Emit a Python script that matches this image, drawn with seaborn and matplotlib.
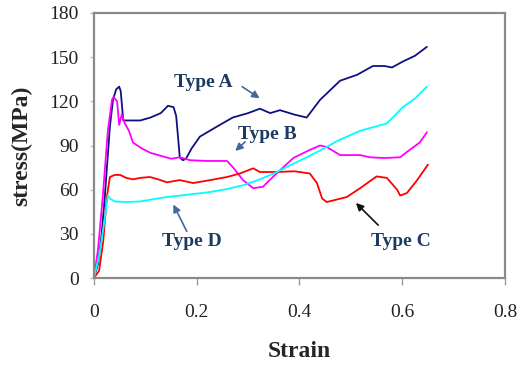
import matplotlib
matplotlib.use("Agg")
import matplotlib.pyplot as plt
import seaborn as sns

# Type A (navy)
A_X = [0, 0.008, 0.015, 0.021, 0.031, 0.037, 0.043, 0.049, 0.052, 0.054, 0.057, 0.07, 0.09, 0.11,
       0.13, 0.144, 0.155, 0.16, 0.167, 0.173, 0.179, 0.19, 0.206, 0.24, 0.27, 0.3, 0.323,
       0.343, 0.362, 0.39, 0.414, 0.44, 0.479, 0.512, 0.543, 0.565, 0.58, 0.601, 0.625, 0.648]
A_Y = [0, 10, 30, 55, 103, 121, 128, 130, 127, 119, 107, 107, 107, 109,
       112, 117, 116, 110, 82, 80, 81, 88, 96, 103, 109, 112, 115,
       112, 114, 111, 109, 121, 134, 138, 144, 144, 143, 147, 151, 157]

# Type B (magenta)
B_X = [0, 0.008, 0.017, 0.027, 0.035, 0.038, 0.045, 0.049, 0.054, 0.06, 0.068, 0.076, 0.093,
       0.11, 0.125, 0.15, 0.167, 0.187, 0.22, 0.259, 0.271, 0.29, 0.31, 0.329, 0.348, 0.388,
       0.42, 0.44, 0.453, 0.479, 0.518, 0.537, 0.565, 0.596, 0.609, 0.634, 0.648]
B_Y = [0, 20, 55, 100, 121, 123, 120, 104, 111, 105, 100, 92, 88,
       85, 83.5, 81, 82, 80, 79.5, 79.5, 75, 66.5, 61, 62, 68.6, 81.5,
       87, 90, 89, 83.5, 83.5, 82, 81.5, 82, 85.6, 92, 99]

# Type C (red)
C_X = [0, 0.01, 0.018, 0.025, 0.031, 0.04, 0.051, 0.063, 0.076, 0.09, 0.109, 0.125, 0.142,
       0.167, 0.193, 0.226, 0.259, 0.284, 0.31, 0.323, 0.356, 0.39, 0.42, 0.434, 0.444,
       0.453, 0.492, 0.518, 0.55, 0.57, 0.59, 0.596, 0.609, 0.629, 0.65]
C_Y = [0, 5, 25, 55, 68.6, 70, 70, 68, 67, 68, 68.6, 67, 65,
       66.5, 64.5, 66.5, 68.6, 71, 74.5, 72, 72, 72.5, 71, 64.5, 54,
       51.6, 55, 61, 69, 68, 60, 56, 57.7, 66.5, 77]

# Type D (cyan)
D_X = [0, 0.01, 0.02, 0.027, 0.031, 0.04, 0.064, 0.09, 0.115, 0.142, 0.18, 0.226, 0.26,
       0.29, 0.323, 0.356, 0.39, 0.42, 0.453, 0.473, 0.518, 0.57, 0.601, 0.625, 0.648]
D_Y = [0, 15, 38, 56, 54, 52, 51.6, 52, 53.5, 55, 56.5, 58.4, 60.5,
       63, 67, 72, 78, 83, 89, 93, 100, 105, 116, 122, 130]

SERIES = [(A_X, A_Y, "#101080"), (B_X, B_Y, "#FF00FF"), (C_X, C_Y, "#FF0000"), (D_X, D_Y, "#00FFFF")]

X_TICKS = [0, 0.2, 0.4, 0.6, 0.8]
X_LABELS = ["0", "0.2", "0.4", "0.6", "0.8"]
Y_TICKS = [0, 30, 60, 90, 120, 150, 180]

# label text, text position, arrow tail, arrow head, arrow colour
NOTES = [
    ("Type A", (0.212, 132.5), (0.284, 131), (0.327, 121), "#46679a"),
    ("Type B", (0.337, 97.8), (0.298, 93.7), (0.271, 85), "#46679a"),
    ("Type D", (0.191, 24.5), (0.183, 30), (0.152, 51.6), "#46679a"),
    ("Type C", (0.598, 24.5), (0.557, 34.6), (0.506, 52.3), "#111111"),
]

sns.set_style("white")
plt.rcParams["font.family"] = ["Liberation Serif", "DejaVu Serif"]

fig = plt.figure(figsize=(5.21, 3.66), dpi=100)
ax = fig.add_axes([0.1804, 0.2404, 0.7889, 0.7241])

for xs, ys, col in SERIES:
    sns.lineplot(x=xs, y=ys, color=col, linewidth=1.3, sort=False, estimator=None, ax=ax)

for label, tpos, tail, head, acol in NOTES:
    ax.text(tpos[0], tpos[1], label, ha="center", va="center", fontsize=14,
            fontweight="bold", color="#1c3a62")
    ax.annotate("", xy=head, xytext=tail,
                arrowprops=dict(arrowstyle="-|>", color=acol, lw=1.2, mutation_scale=11))

ax.set_xlim(0, 0.8)
ax.set_ylim(0, 180)
ax.set_xticks(X_TICKS)
ax.set_xticklabels(X_LABELS)
ax.set_yticks(Y_TICKS)

for s in ax.spines.values():
    s.set_color("#8a8a8a")
    s.set_linewidth(1.6)

ax.tick_params(axis="x", direction="out", length=5, width=1, color="#9a9a9a",
               pad=14, labelsize=14, labelcolor="#222222", bottom=True)
ax.tick_params(axis="y", direction="out", length=3, width=1, color="#bbbbbb",
               pad=8, labelsize=14, labelcolor="#222222", left=True)

ax.set_xlabel("Strain", fontsize=17, fontweight="bold", labelpad=14)
ax.set_ylabel("stress(MPa)", fontsize=17, fontweight="bold", labelpad=12)

fig.savefig("out.png", dpi=100)
